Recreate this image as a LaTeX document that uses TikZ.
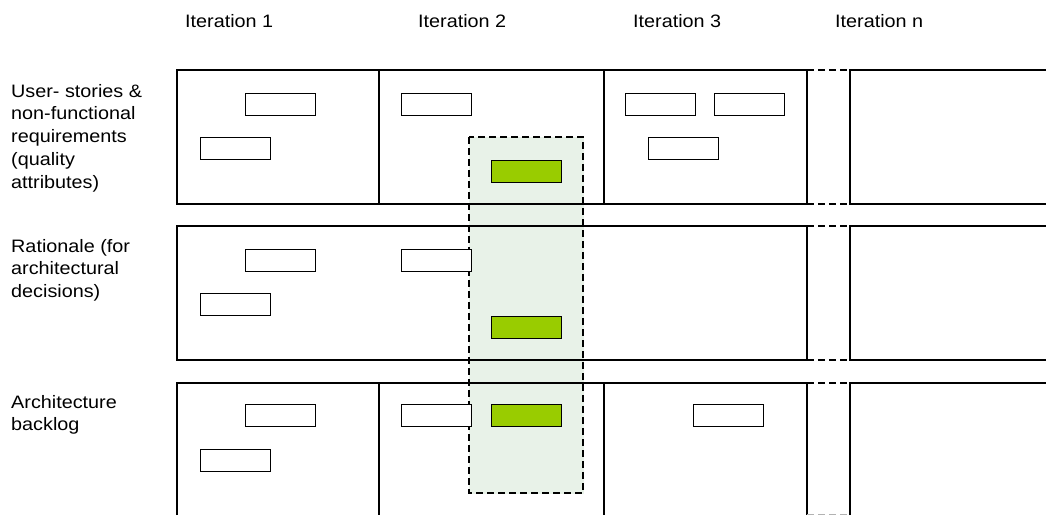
\documentclass[tikz,border=0pt]{standalone}
\usepackage{fontspec}
\setmainfont[FakeStretch=1.1]{Liberation Sans}
\usetikzlibrary{positioning}

\definecolor{sprint}{HTML}{99CC00}
\definecolor{focusbg}{HTML}{E8F2E8}

\begin{document}
\begin{tikzpicture}[
  x=1pt,y=-1pt,
  every node/.style={font=\fontsize{18}{22.7}\selectfont},
  grid/.style={line width=1.2pt},
  gap/.style={line width=2pt,dash pattern=on 7pt off 4pt},
  faint/.style={line width=1pt,gray!60,dash pattern=on 7pt off 4pt},
  focus/.style={draw,line width=2pt,dash pattern=on 7pt off 4pt,fill=focusbg},
  item/.style={draw,line width=1.2pt,fill=white,minimum width=70pt,minimum height=22pt,
    inner sep=0pt,anchor=north west},
  chosen/.style={item,fill=sprint},
  heading/.style={anchor=base west,inner sep=0pt},
  rowlabel/.style={anchor=north west,align=left,inner sep=0pt}
]
  \useasboundingbox (0,0) rectangle (1046,515);

  % iteration headings
  \node[heading] (it1) at (185,27) {Iteration 1};
  \node[heading] (it2) at (418,27) {Iteration 2};
  \node[heading] (it3) at (633,27) {Iteration 3};
  \node[heading] (itn) at (835,27) {Iteration n};

  % row labels
  \node[rowlabel] (storylabel) at (11,84)
    {User- stories \&\\non-functional\\requirements\\(quality\\attributes)};
  \node[rowlabel] (rationalelabel) at (11,239)
    {Rationale (for\\architectural\\decisions)};
  \node[rowlabel] (backloglabel) at (11,395) {Architecture\\backlog};

  % current iteration focus
  \filldraw[focusbg] (469,137) rectangle (583,493);

  % row 1
  \draw[grid] (177,70) rectangle (807,204);
  \draw[grid] (379,70) -- (379,204) (604,70) -- (604,204);
  \draw[grid] (1046,70) -- (850,70) -- (850,204) -- (1046,204);
  \draw[gap] (807,70) -- (850,70) (807,204) -- (850,204);

  % row 2
  \draw[grid] (177,226) rectangle (807,360);
  \draw[grid] (1046,226) -- (850,226) -- (850,360) -- (1046,360);
  \draw[gap] (807,226) -- (870,226) (807,360) -- (870,360);

  % row 3
  \draw[grid] (177,515) -- (177,383) -- (807,383) -- (807,515);
  \draw[grid] (379,383) -- (379,515) (604,383) -- (604,515);
  \draw[grid] (850,515) -- (850,383) -- (1046,383);
  \draw[gap] (807,383) -- (850,383);
  \draw[faint] (807,514) -- (850,514);

  \draw[focus,fill=none] (469,137) rectangle (583,493);

  % items
  \node[item] (s1a) at (245,93) {};
  \node[item] (s1b) at (200,137) {};
  \node[item] (s2a) at (401,93) {};
  \node[chosen] (s2b) at (491,160) {};
  \node[item] (s3a) at (625,93) {};
  \node[item] (s3b) at (714,93) {};
  \node[item] (s3c) at (648,137) {};

  \node[item] (r1a) at (245,249) {};
  \node[item] (r1b) at (200,293) {};
  \node[item] (r2a) at (401,249) {};
  \node[chosen] (r2b) at (491,316) {};

  \node[item] (b1a) at (245,404) {};
  \node[item] (b1b) at (200,449) {};
  \node[item] (b2a) at (401,404) {};
  \node[chosen] (b2b) at (491,404) {};
  \node[item] (b3a) at (693,404) {};
\end{tikzpicture}
\end{document}
